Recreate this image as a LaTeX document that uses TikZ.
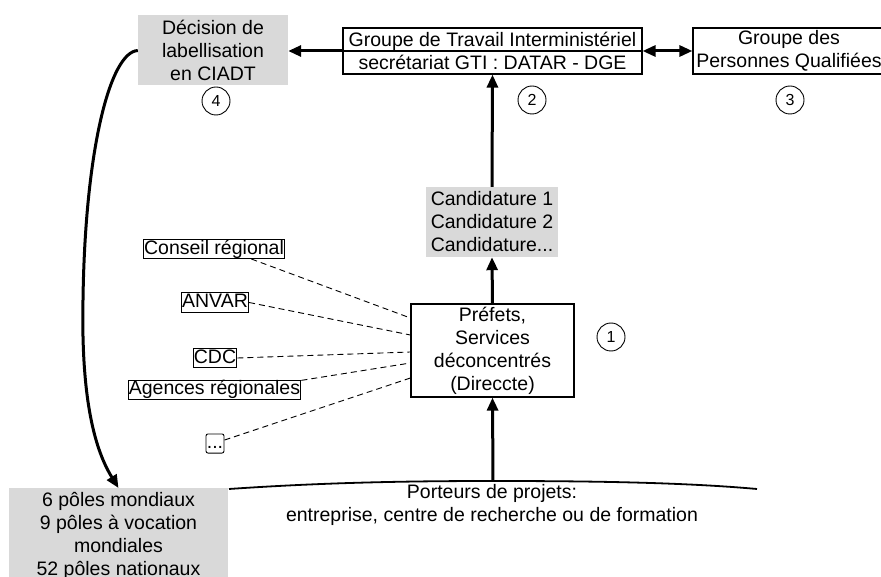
\documentclass[tikz,border=0pt]{standalone}
\usepackage{fontspec}
\setmainfont{Liberation Sans}
\usetikzlibrary{arrows.meta,calc}
\definecolor{boxgray}{RGB}{217,217,217}
\begin{document}
\begin{tikzpicture}[x=1pt,y=-1pt,
  every node/.style={font=\fontsize{19.5}{23}\selectfont, inner sep=0pt},
  graybox/.style={fill=boxgray, align=center},
  wbox/.style={draw, line width=1.2pt, align=center},
  lbl/.style={draw, line width=0.9pt, inner sep=0.8pt, text height=14pt, text depth=3.5pt},
  num/.style={draw, circle, line width=0.9pt, minimum size=28pt, font=\fontsize{16}{16}\selectfont},
  big/.style={line width=3pt, -{Triangle[length=13pt,width=11pt]}},
  dashline/.style={dash pattern=on 6pt off 4pt, line width=0.9pt}]
\useasboundingbox (0,0) rectangle (881,577);

% main boxes
\node[graybox, minimum width=150pt, minimum height=70pt] (dec) at (213,50.5) {Décision de\\labellisation\\en CIADT};
\node[wbox, minimum width=299pt, minimum height=46pt] (gti) at (492.5,51) {Groupe de Travail Interministériel\\secrétariat GTI : DATAR - DGE};
\draw[line width=1.2pt] (gti.west) -- (gti.east);
\node[wbox, minimum width=192pt, minimum height=46pt] (gpq) at (789,51) {Groupe des\\Personnes Qualifiées};
\node[graybox, align=left, minimum width=132pt, minimum height=70pt] (cand) at (492,222) {Candidature 1\\Candidature 2\\Candidature...};
\node[wbox, minimum width=163pt, minimum height=93pt] (pref) at (492.5,350.5) {Préfets,\\Services\\déconcentrés\\(Direccte)};
\node[graybox, minimum width=219pt, minimum height=96pt, anchor=north] (poles) at (118.5,488) {6 pôles mondiaux\\9 pôles à vocation\\mondiales\\52 pôles nationaux};
\node[align=center] (port) at (492,505) {Porteurs de projets:\\entreprise, centre de recherche ou de formation};

% numbers
\node[num] (n1) at (611,337) {1};
\node[num] (n2) at (532,100) {2};
\node[num] (n3) at (790,100) {3};
\node[num] (n4) at (216,101) {4};

% small labels
\node[lbl] (cr) at (214,249) {Conseil régional};
\node[lbl] (anvar) at (215,302.5) {ANVAR};
\node[lbl] (cdc) at (215,358) {CDC};
\node[lbl] (ag) at (214.5,389.5) {Agences régionales};
\node[lbl, rounded corners=2pt, minimum width=18pt] (dots) at (215,443.5) {...};

% dashed links
\draw[dashline] (cr.-15) -- ($(pref.west)+(0,-32.5)$);
\draw[dashline] (anvar.east) -- ($(pref.west)+(0,-15.5)$);
\draw[dashline] (cdc.east) -- ($(pref.west)+(0,1.5)$);
\draw[dashline] (ag.6) -- ($(pref.west)+(0,12.5)$);
\draw[dashline] (dots.20) -- ($(pref.west)+(0,27.5)$);

% arc of project holders
\coordinate (arcL) at (229,489);
\coordinate (arcT) at (493,481);
\coordinate (arcR) at (757,489);
\draw[line width=1.8pt] (arcL) .. controls (330,482) and (420,481) .. (arcT) .. controls (580,481) and (680,482) .. (arcR);

% thick arrows
\draw[big] (arcT) -- (pref.south);
\draw[big] (pref.north) -- (cand.south);
\draw[big] (cand.north) -- (gti.south);
\draw[big] (gti.west) -- (gti.west -| dec.east);
\draw[line width=3pt, {Triangle[length=13pt,width=11pt]}-{Triangle[length=13pt,width=11pt]}] (gti.east) -- (gpq.west);
\draw[big] (dec.west) .. controls (110,52) and (85,150) .. (83,300) .. controls (81,400) and (95,450) .. (poles.north);
\end{tikzpicture}
\end{document}
